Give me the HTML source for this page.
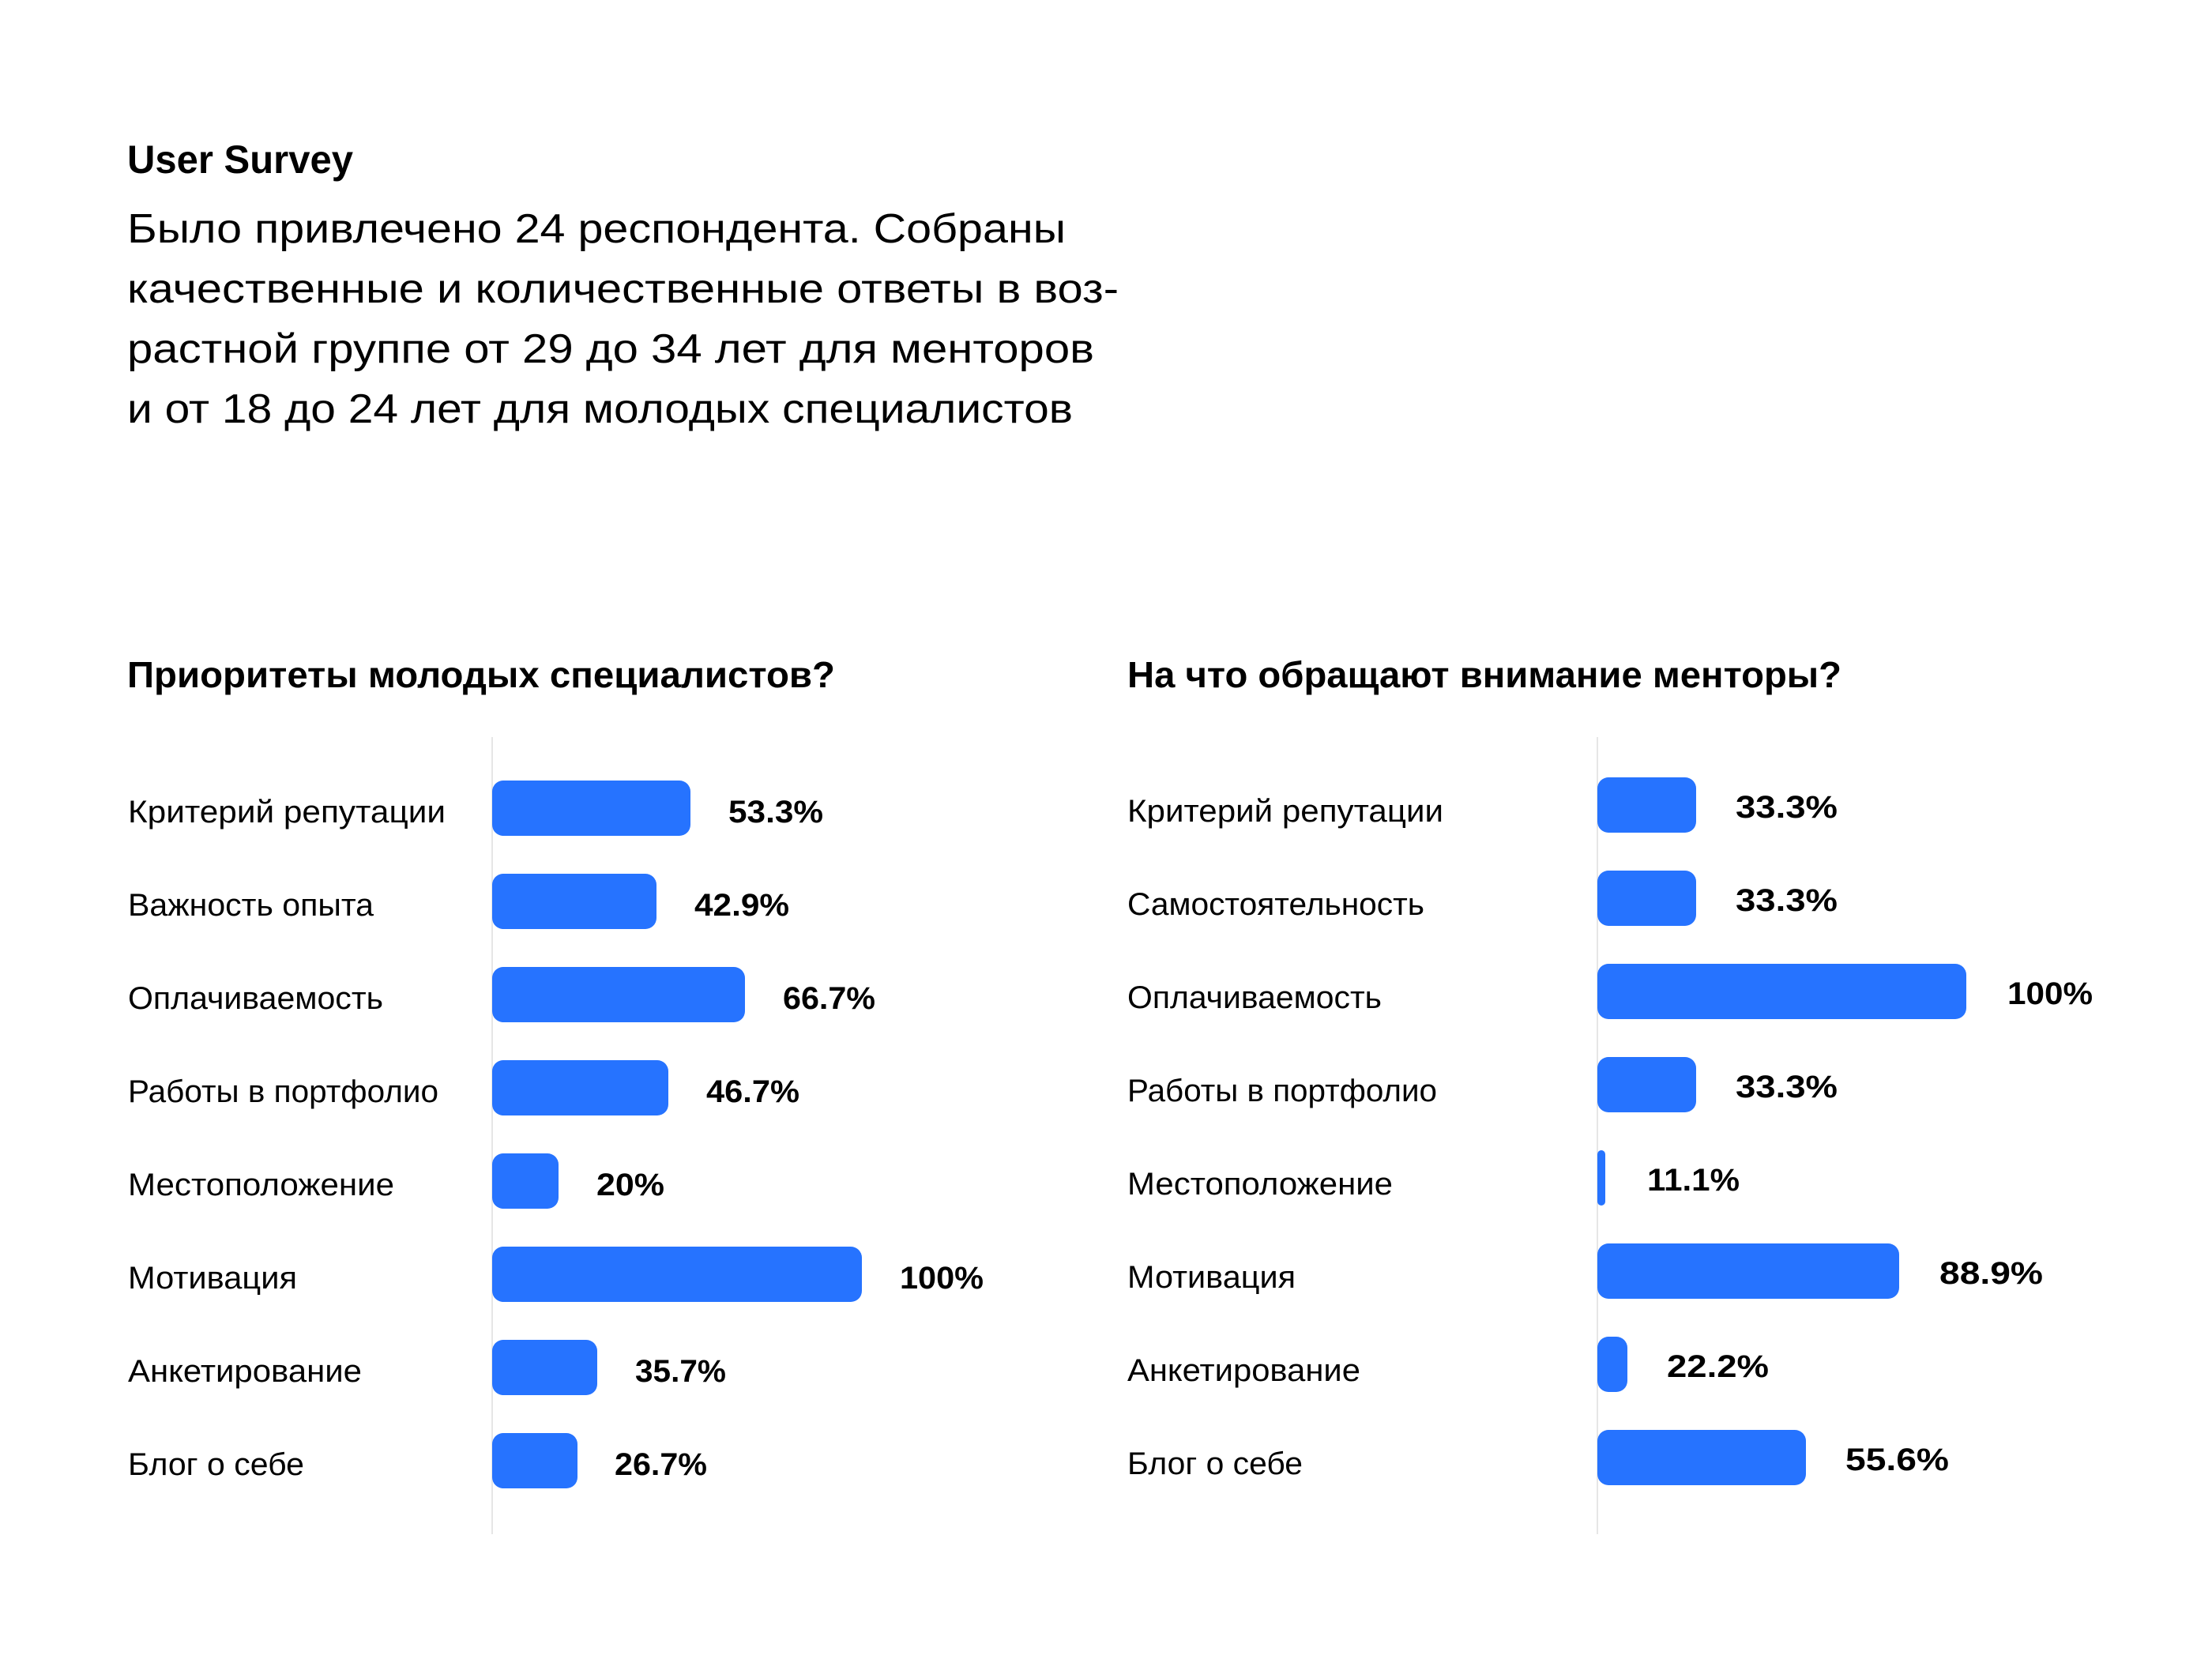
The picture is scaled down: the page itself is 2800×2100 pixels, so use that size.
<!DOCTYPE html>
<html><head><meta charset="utf-8"><style>
html,body{margin:0;padding:0;background:#fff;}
svg{display:block}
text{font-family:"Liberation Sans",sans-serif;fill:#000}
.b{font-weight:bold}
</style></head><body>
<svg width="2800" height="2100" viewBox="0 0 2800 2100" xmlns="http://www.w3.org/2000/svg">
<rect width="2800" height="2100" fill="#fff"/>
<text x="161" y="219" font-size="50" class="b" textLength="286" lengthAdjust="spacingAndGlyphs">User Survey</text>
<g font-size="52">
<text x="161" y="307" textLength="1188" lengthAdjust="spacingAndGlyphs">Было привлечено 24 респондента. Собраны</text>
<text x="161" y="383" textLength="1255" lengthAdjust="spacingAndGlyphs">качественные и количественные ответы в воз-</text>
<text x="161" y="459" textLength="1224" lengthAdjust="spacingAndGlyphs">растной группе от 29 до 34 лет для менторов</text>
<text x="161" y="535" textLength="1197" lengthAdjust="spacingAndGlyphs">и от 18 до 24 лет для молодых специалистов</text>
</g>
<text x="161" y="870" font-size="46" class="b" textLength="896" lengthAdjust="spacingAndGlyphs">Приоритеты молодых специалистов?</text>
<text x="1427" y="870" font-size="46" class="b" textLength="904" lengthAdjust="spacingAndGlyphs">На что обращают внимание менторы?</text>
<line x1="623" y1="933" x2="623" y2="1942" stroke="#e6e6e6" stroke-width="2"/>
<line x1="2022" y1="933" x2="2022" y2="1942" stroke="#e6e6e6" stroke-width="2"/>
<g fill="#2673ff">
<rect x="623" y="988" width="251" height="70" rx="14"/>
<rect x="623" y="1106" width="208" height="70" rx="14"/>
<rect x="623" y="1224" width="320" height="70" rx="14"/>
<rect x="623" y="1342" width="223" height="70" rx="14"/>
<rect x="623" y="1460" width="84" height="70" rx="14"/>
<rect x="623" y="1578" width="468" height="70" rx="14"/>
<rect x="623" y="1696" width="133" height="70" rx="14"/>
<rect x="623" y="1814" width="108" height="70" rx="14"/>

<rect x="2022" y="984" width="125" height="70" rx="14"/>
<rect x="2022" y="1102" width="125" height="70" rx="14"/>
<rect x="2022" y="1220" width="467" height="70" rx="14"/>
<rect x="2022" y="1338" width="125" height="70" rx="14"/>
<rect x="2022" y="1456" width="10" height="70" rx="5"/>
<rect x="2022" y="1574" width="382" height="70" rx="14"/>
<rect x="2022" y="1692" width="38" height="70" rx="14"/>
<rect x="2022" y="1810" width="264" height="70" rx="14"/>
</g>
<g font-size="40">
<text x="162" y="1041" textLength="402" lengthAdjust="spacingAndGlyphs">Критерий репутации</text>
<text x="162" y="1159" textLength="311" lengthAdjust="spacingAndGlyphs">Важность опыта</text>
<text x="162" y="1277" textLength="323" lengthAdjust="spacingAndGlyphs">Оплачиваемость</text>
<text x="162" y="1395" textLength="393" lengthAdjust="spacingAndGlyphs">Работы в портфолио</text>
<text x="162" y="1513" textLength="337" lengthAdjust="spacingAndGlyphs">Местоположение</text>
<text x="162" y="1631" textLength="214" lengthAdjust="spacingAndGlyphs">Мотивация</text>
<text x="162" y="1749" textLength="296" lengthAdjust="spacingAndGlyphs">Анкетирование</text>
<text x="162" y="1867" textLength="223" lengthAdjust="spacingAndGlyphs">Блог о себе</text>

<text x="1427" y="1040" textLength="400" lengthAdjust="spacingAndGlyphs">Критерий репутации</text>
<text x="1427" y="1158" textLength="376" lengthAdjust="spacingAndGlyphs">Самостоятельность</text>
<text x="1427" y="1276" textLength="322" lengthAdjust="spacingAndGlyphs">Оплачиваемость</text>
<text x="1427" y="1394" textLength="392" lengthAdjust="spacingAndGlyphs">Работы в портфолио</text>
<text x="1427" y="1512" textLength="336" lengthAdjust="spacingAndGlyphs">Местоположение</text>
<text x="1427" y="1630" textLength="213" lengthAdjust="spacingAndGlyphs">Мотивация</text>
<text x="1427" y="1748" textLength="295" lengthAdjust="spacingAndGlyphs">Анкетирование</text>
<text x="1427" y="1866" textLength="222" lengthAdjust="spacingAndGlyphs">Блог о себе</text>
</g>
<g font-size="40" class="b">
<text x="922" y="1041" textLength="120" lengthAdjust="spacingAndGlyphs" class="b">53.3%</text>
<text x="879" y="1159" textLength="120" lengthAdjust="spacingAndGlyphs" class="b">42.9%</text>
<text x="991" y="1277" textLength="117" lengthAdjust="spacingAndGlyphs" class="b">66.7%</text>
<text x="894" y="1395" textLength="118" lengthAdjust="spacingAndGlyphs" class="b">46.7%</text>
<text x="755" y="1513" textLength="86" lengthAdjust="spacingAndGlyphs" class="b">20%</text>
<text x="1139" y="1631" textLength="106" lengthAdjust="spacingAndGlyphs" class="b">100%</text>
<text x="804" y="1749" textLength="115" lengthAdjust="spacingAndGlyphs" class="b">35.7%</text>
<text x="778" y="1867" textLength="117" lengthAdjust="spacingAndGlyphs" class="b">26.7%</text>

<text x="2197" y="1035" textLength="129" lengthAdjust="spacingAndGlyphs" class="b">33.3%</text>
<text x="2197" y="1153" textLength="129" lengthAdjust="spacingAndGlyphs" class="b">33.3%</text>
<text x="2541" y="1271" textLength="108" lengthAdjust="spacingAndGlyphs" class="b">100%</text>
<text x="2197" y="1389" textLength="129" lengthAdjust="spacingAndGlyphs" class="b">33.3%</text>
<text x="2085" y="1507" textLength="117" lengthAdjust="spacingAndGlyphs" class="b">11.1%</text>
<text x="2455" y="1625" textLength="131" lengthAdjust="spacingAndGlyphs" class="b">88.9%</text>
<text x="2110" y="1743" textLength="129" lengthAdjust="spacingAndGlyphs" class="b">22.2%</text>
<text x="2336" y="1861" textLength="131" lengthAdjust="spacingAndGlyphs" class="b">55.6%</text>
</g>
</svg>
</body></html>
